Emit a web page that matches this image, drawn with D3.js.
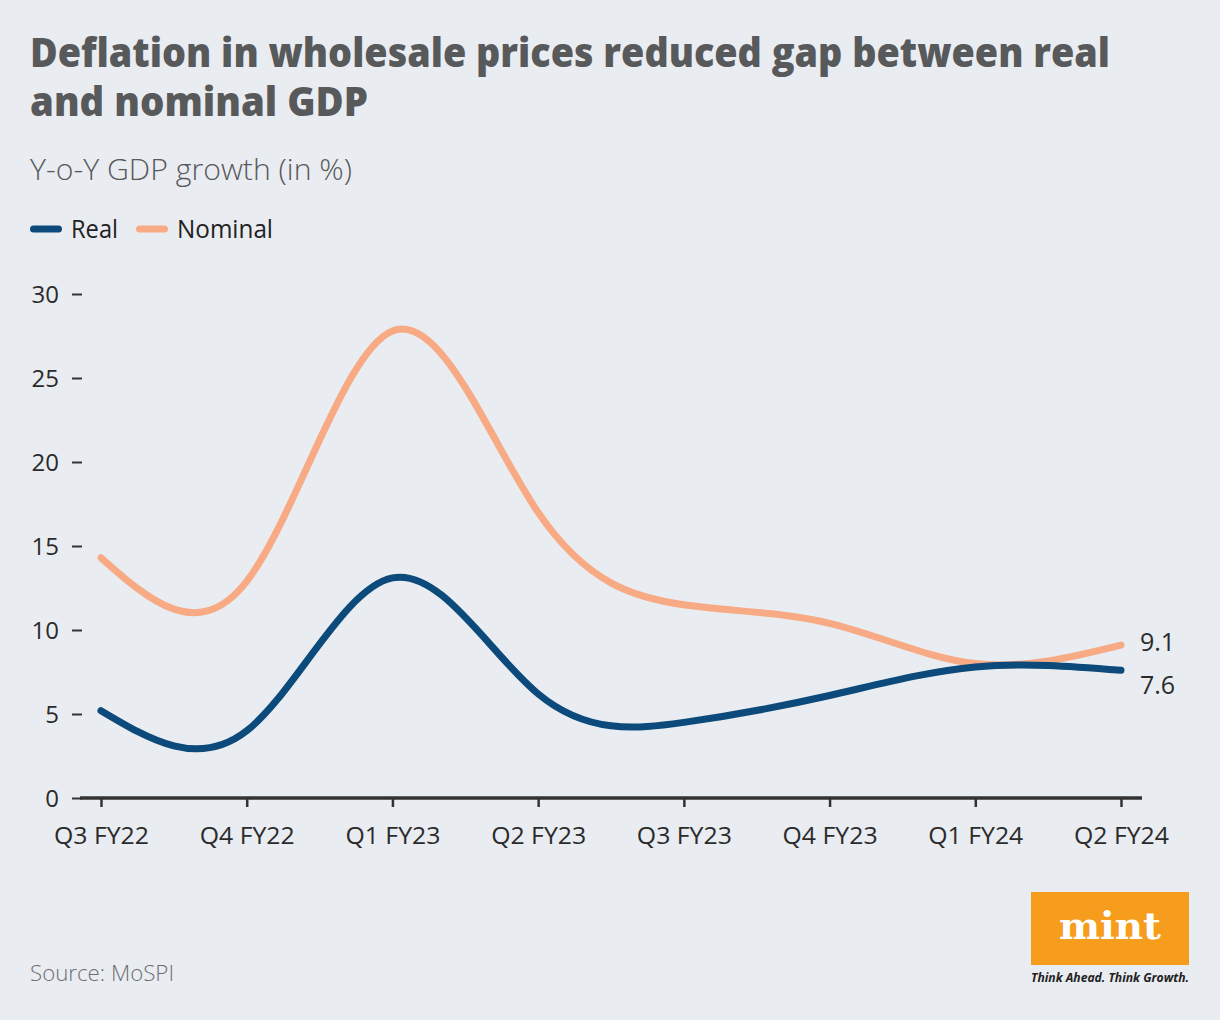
<!DOCTYPE html>
<html>
<head>
<meta charset="utf-8">
<script src="https://cdn.jsdelivr.net/npm/d3@7"></script>
<style>
  html, body { margin: 0; padding: 0; background: #e9ecf1; }
  svg { display: block; }
</style>
</head>
<body>
<svg id="chart" width="1220" height="1020"></svg>
<script>
const categories = ["Q3 FY22", "Q4 FY22", "Q1 FY23", "Q2 FY23", "Q3 FY23", "Q4 FY23", "Q1 FY24", "Q2 FY24"];
const realValues = [5.2, 4.0, 13.1, 6.2, 4.5, 6.1, 7.8, 7.6];
const nominalValues = [14.3, 12.9, 27.8, 17.0, 11.5, 10.4, 8.0, 9.1];
const yTicks = [0, 5, 10, 15, 20, 25, 30];
const seriesNames = ["Real", "Nominal"];
const seriesColors = ["#0b4a7a", "#f8aa84"];

const svg = d3.select("#chart");
const W = 1220, H = 1020;
svg.append("rect").attr("width", W).attr("height", H).attr("fill", "#e9ecf1");

const FONT = "'Open Sans', 'Noto Sans', sans-serif";

// Title
const title = svg.append("g").attr("font-family", FONT).attr("font-weight", 800)
  .attr("fill", "#58595b").attr("font-size", 41);
title.append("text").attr("x", 30).attr("y", 67)
  .attr("textLength", 1080).attr("lengthAdjust", "spacingAndGlyphs")
  .text("Deflation in wholesale prices reduced gap between real");
title.append("text").attr("x", 30).attr("y", 116)
  .attr("textLength", 338).attr("lengthAdjust", "spacingAndGlyphs")
  .text("and nominal GDP");

// Subtitle
svg.append("text").attr("x", 30).attr("y", 180)
  .attr("font-family", FONT).attr("font-weight", 300).attr("font-size", 30)
  .attr("fill", "#58595b")
  .attr("textLength", 322).attr("lengthAdjust", "spacingAndGlyphs")
  .text("Y-o-Y GDP growth (in %)");

// Legend
const legend = svg.append("g").attr("font-family", FONT).attr("font-size", 26).attr("fill", "#222");
const legendX = [30, 136];
const legendTextW = [47, 96];
seriesNames.forEach((n, i) => {
  legend.append("line").attr("x1", legendX[i] + 3.5).attr("x2", legendX[i] + 28.5)
    .attr("y1", 229).attr("y2", 229)
    .attr("stroke", seriesColors[i]).attr("stroke-width", 7).attr("stroke-linecap", "round");
  legend.append("text").attr("x", legendX[i] + 41).attr("y", 238)
    .attr("textLength", legendTextW[i]).attr("lengthAdjust", "spacingAndGlyphs")
    .text(n);
});

// Scales
const x = d3.scalePoint().domain(categories).range([101, 1121]);
const y = d3.scaleLinear().domain([0, 30]).range([798, 294]);

// Y axis
const yAxis = svg.append("g").attr("transform", "translate(82,0)")
  .call(d3.axisLeft(y).tickValues(yTicks).tickSize(10).tickPadding(13));
yAxis.select(".domain").remove();
yAxis.selectAll(".tick line").attr("stroke", "#333").attr("stroke-width", 2);
yAxis.selectAll(".tick text").attr("font-family", FONT).attr("font-size", 24)
  .attr("fill", "#2b2b2b").attr("dy", "0.35em");

// X axis
const xAxis = svg.append("g").attr("transform", "translate(0,798)")
  .call(d3.axisBottom(x).tickSize(9).tickSizeOuter(0).tickPadding(20));
xAxis.select(".domain").remove();
xAxis.selectAll(".tick line").attr("stroke", "#333").attr("stroke-width", 2.5);
xAxis.selectAll(".tick text").attr("font-family", FONT).attr("font-size", 24)
  .attr("fill", "#2b2b2b").attr("textLength", 95).attr("lengthAdjust", "spacingAndGlyphs");
svg.append("line").attr("x1", 80).attr("x2", 1142).attr("y1", 798).attr("y2", 798)
  .attr("stroke", "#333").attr("stroke-width", 3.5);

// Lines
const line = d3.line().x((d, i) => x(categories[i])).y(d => y(d)).curve(d3.curveNatural);
const allSeries = [nominalValues, realValues];
const allColors = [seriesColors[1], seriesColors[0]];
allSeries.forEach((vals, i) => {
  svg.append("path").datum(vals).attr("d", line)
    .attr("fill", "none").attr("stroke", allColors[i])
    .attr("stroke-width", 7).attr("stroke-linecap", "round").attr("stroke-linejoin", "round");
});

// End labels
const lastCat = categories[categories.length - 1];
svg.append("text").attr("x", x(lastCat) + 19).attr("y", y(nominalValues[nominalValues.length - 1]) + 6)
  .attr("font-family", FONT).attr("font-size", 25).attr("fill", "#2b2b2b")
  .text(d3.format(".1f")(nominalValues[nominalValues.length - 1]));
svg.append("text").attr("x", x(lastCat) + 19).attr("y", y(realValues[realValues.length - 1]) + 24)
  .attr("font-family", FONT).attr("font-size", 25).attr("fill", "#2b2b2b")
  .text(d3.format(".1f")(realValues[realValues.length - 1]));

// Source
svg.append("text").attr("x", 30).attr("y", 981)
  .attr("font-family", FONT).attr("font-weight", 300).attr("font-size", 22)
  .attr("fill", "#6d6e71").attr("textLength", 144).attr("lengthAdjust", "spacingAndGlyphs")
  .text("Source: MoSPI");

// Logo
const logo = svg.append("g");
logo.append("rect").attr("x", 1031).attr("y", 892).attr("width", 158).attr("height", 73).attr("fill", "#f79d1e");
logo.append("text").attr("x", 1110).attr("y", 939).attr("text-anchor", "middle")
  .attr("font-family", "'DejaVu Serif', 'Liberation Serif', serif").attr("font-weight", 700)
  .attr("font-size", 38).attr("fill", "#ffffff")
  .attr("textLength", 102).attr("lengthAdjust", "spacingAndGlyphs").text("mint");
logo.append("text").attr("x", 1031).attr("y", 982)
  .attr("font-family", FONT).attr("font-style", "italic").attr("font-weight", 700)
  .attr("font-size", 13).attr("fill", "#222")
  .attr("textLength", 158).attr("lengthAdjust", "spacingAndGlyphs").text("Think Ahead. Think Growth.");
</script>
</body>
</html>
